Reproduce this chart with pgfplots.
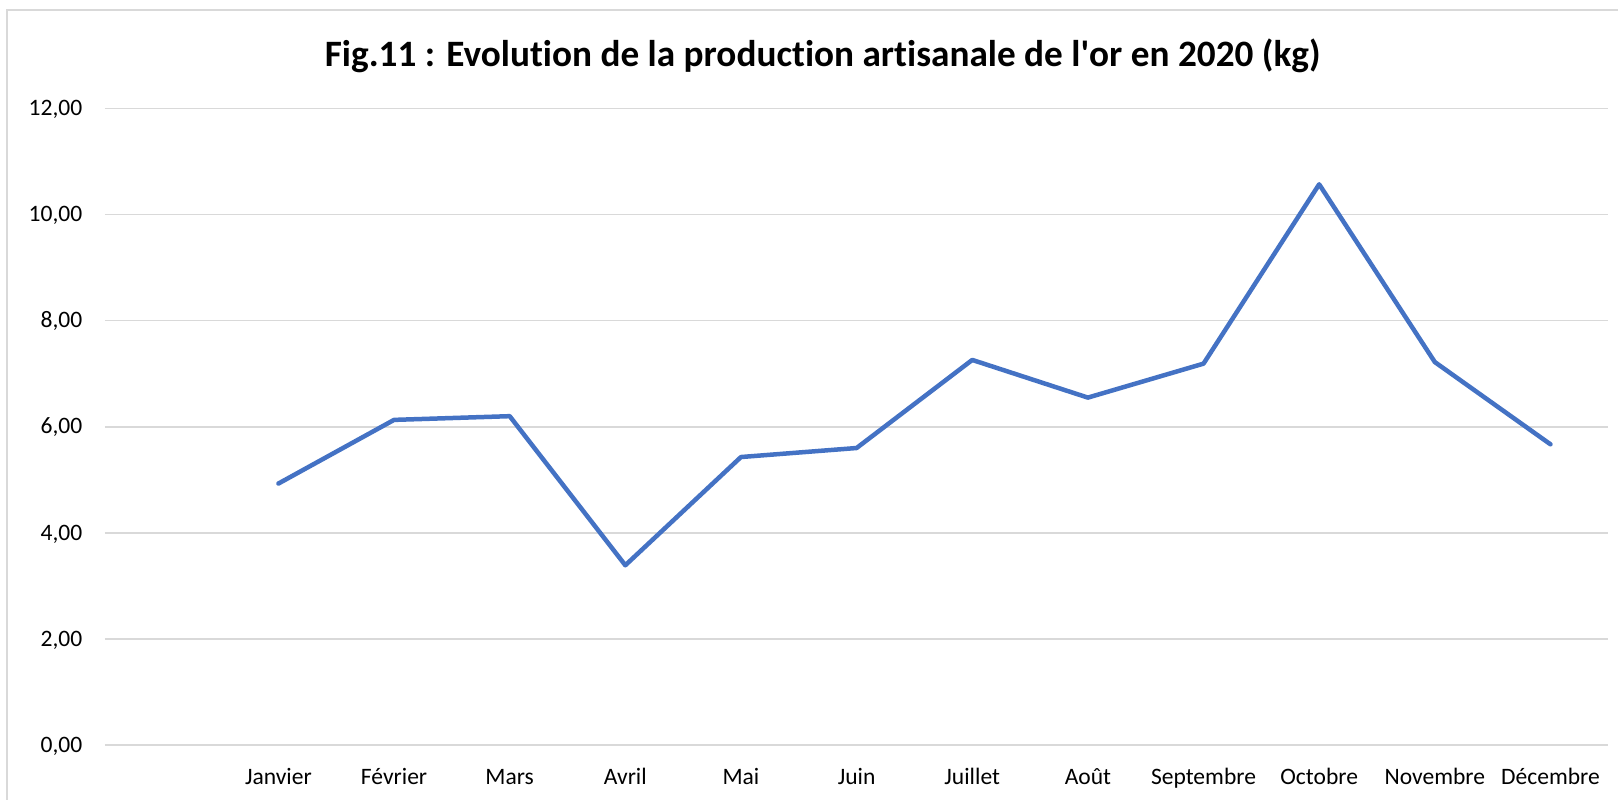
\documentclass[border=0pt]{standalone}
\usepackage{pgfplots}
\pgfplotsset{compat=1.18}
\usepackage{fontspec}
\setmainfont{Carlito}[Ligatures={NoCommon}]
\definecolor{lineblue}{HTML}{4472C4}
\definecolor{gridgray}{HTML}{D9D9D9}
\begin{document}
\begin{tikzpicture}
\path[fill=white] (0,0) rectangle (161.9mm,80mm);
\draw[gridgray, line width=0.15mm] (0.7mm,0) -- (0.7mm,79mm) -- (161.9mm,79mm);
\node[font=\fontsize{10.6}{12}\selectfont\bfseries, anchor=center] at (82.3mm,74.4mm) {Fig.11 : Evolution de la production artisanale de l\textquotesingle or en 2020 (kg)};
\begin{axis}[
  at={(10.5mm,5.45mm)}, anchor=south west,
  scale only axis,
  width=150.4mm, height=63.7mm,
  xmin=-0.5, xmax=12.5,
  ymin=0, ymax=12,
  ytick={0,2,...,12},
  xtick={1,...,12},
  xticklabels={Janvier,Février,Mars,Avril,Mai,Juin,Juillet,Août,Septembre,Octobre,Novembre,Décembre},
  axis line style={draw=none},
  major tick length=0pt,
  ymajorgrids,
  grid style={gridgray, line width=0.15mm},
  tick label style={font=\fontsize{6.7}{8}\selectfont, text=black},
  yticklabel style={anchor=base east, inner sep=0pt, xshift=-2.2mm, yshift=-0.72mm},
  xticklabel style={anchor=base, inner sep=0pt, yshift=-3.9mm},
  /pgf/number format/.cd, fixed, fixed zerofill, precision=2, use comma, assume math mode=true,
]
\addplot[lineblue, line width=0.45mm, line join=round, line cap=round] coordinates {
(1,4.93) (2,6.13) (3,6.20) (4,3.39) (5,5.43) (6,5.60)
(7,7.26) (8,6.55) (9,7.19) (10,10.57) (11,7.22) (12,5.67)
};
\end{axis}
\end{tikzpicture}
\end{document}
